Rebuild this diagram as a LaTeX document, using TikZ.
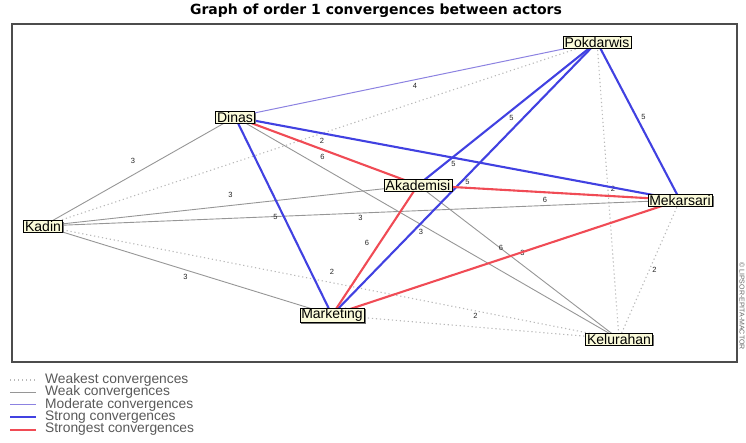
\documentclass[tikz,border=0pt]{standalone}
\usepackage{fontspec}
\setmainfont{Liberation Sans}
\newfontfamily\titlefont{DejaVu Sans}
\usetikzlibrary{shadows,backgrounds}
\definecolor{weakestc}{RGB}{185,185,185}
\definecolor{weakc}{RGB}{150,150,150}
\definecolor{moderatec}{RGB}{140,130,225}
\definecolor{strongc}{RGB}{65,65,225}
\definecolor{strongestc}{RGB}{240,75,85}
\definecolor{actorfill}{RGB}{250,250,218}

\begin{document}
\begin{tikzpicture}[x=1pt,y=-1pt,
    actor/.style={draw=black, fill=actorfill, inner xsep=1.5pt, inner ysep=0.6pt, font=\fontsize{14}{14}\selectfont,
        drop shadow={shadow xshift=1.5pt, shadow yshift=-1.5pt, fill=black!55, opacity=1}},
    weakest/.style={draw=weakestc, line width=1.1pt, dash pattern=on 1.2pt off 2.8pt},
    weak/.style={draw=weakc, line width=0.9pt},
    moderate/.style={draw=moderatec, line width=1pt},
    strong/.style={draw=strongc, line width=2.1pt},
    strongest/.style={draw=strongestc, line width=2.1pt},
    lbl/.style={font=\fontsize{7.5}{7.5}\selectfont, inner sep=0pt, text=black!85},
    legtext/.style={font=\fontsize{13.8}{13.8}\selectfont, text=black!65, anchor=west, inner sep=0pt}]
    \useasboundingbox (0,0) rectangle (746,442);
    \node[font=\titlefont\bfseries\fontsize{14}{14}\selectfont] (title) at (376,11) {Graph of order 1 convergences between actors};
    \node[actor] (pokdarwis) at (597,42) {Pokdarwis};
    \node[actor] (dinas) at (235,117) {Dinas};
    \node[actor] (akademisi) at (418,185) {Akademisi};
    \node[actor] (mekarsari) at (680,200) {Mekarsari};
    \node[actor] (kadin) at (43,226) {Kadin};
    \node[actor] (marketing) at (332,315) {Marketing};
    \node[actor] (kelurahan) at (619,339) {Kelurahan};
    \node[rotate=-90, font=\fontsize{7}{7}\selectfont, text=black!60] (copyr) at (742,306) {© LIPSOR-EPITA-MACTOR};
    \begin{scope}[on background layer]
        \draw[line width=1.4pt, black!70] (12,24) rectangle (737,362);
        \draw[weakest] (kadin.center) -- node[lbl, shift={(2,7)}] {2} (pokdarwis.center);
        \draw[weakest] (kadin.center) -- node[lbl, shift={(1,-11)}] {2} (kelurahan.center);
        \draw[weakest] (pokdarwis.center) -- node[lbl, shift={(5,-2)}] {2} (kelurahan.center);
        \draw[weakest] (marketing.center) -- node[lbl, shift={(0,-11)}] {2} (kelurahan.center);
        \draw[weakest] (mekarsari.center) -- node[lbl, shift={(5,0)}] {2} (kelurahan.center);
        \draw[weak] (kadin.center) -- node[lbl, shift={(-6,-11)}] {3} (dinas.center);
        \draw[weak] (kadin.center) -- node[lbl, shift={(0,-11)}] {3} (akademisi.center);
        \draw[weak] (kadin.center) -- node[lbl, shift={(-1,5)}] {3} (mekarsari.center);
        \draw[weak] (kadin.center) -- node[lbl, shift={(-2,6)}] {3} (marketing.center);
        \draw[weak] (dinas.center) -- node[lbl, shift={(-6,4)}] {3} (kelurahan.center);
        \draw[weak] (akademisi.center) -- node[lbl, shift={(4,-9)}] {3} (kelurahan.center);
        \draw[moderate] (dinas.center) -- node[lbl, shift={(-1,6)}] {4} (pokdarwis.center);
        \draw[strong] (dinas.center) -- node[lbl, shift={(-4,5)}] {5} (mekarsari.center);
        \draw[strong] (dinas.center) -- node[lbl, shift={(-8,1)}] {5} (marketing.center);
        \draw[strong] (pokdarwis.center) -- node[lbl, shift={(4,4)}] {5} (akademisi.center);
        \draw[strong] (pokdarwis.center) -- node[lbl, shift={(3,3)}] {5} (marketing.center);
        \draw[strong] (pokdarwis.center) -- node[lbl, shift={(5,-4)}] {5} (mekarsari.center);
        \draw[strongest] (dinas.center) -- node[lbl, shift={(-4,6)}] {6} (akademisi.center);
        \draw[strongest] (akademisi.center) -- node[lbl, shift={(-4,7)}] {6} (mekarsari.center);
        \draw[strongest] (akademisi.center) -- node[lbl, shift={(-8,-7)}] {6} (marketing.center);
        \draw[strongest] (marketing.center) -- node[lbl, shift={(-5,-10)}] {6} (mekarsari.center);
    \end{scope}
    \draw[weakest] (10,380) -- ++(26,0);
    \node[legtext] (leg1) at (45,380) {Weakest convergences};
    \draw[weak] (10,392.4) -- ++(26,0);
    \node[legtext] (leg2) at (45,392.4) {Weak convergences};
    \draw[moderate] (10,404.8) -- ++(26,0);
    \node[legtext] (leg3) at (45,404.8) {Moderate convergences};
    \draw[strong] (10,417.2) -- ++(26,0);
    \node[legtext] (leg4) at (45,417.2) {Strong convergences};
    \draw[strongest] (10,429.6) -- ++(26,0);
    \node[legtext] (leg5) at (45,429.6) {Strongest convergences};
\end{tikzpicture}
\end{document}
